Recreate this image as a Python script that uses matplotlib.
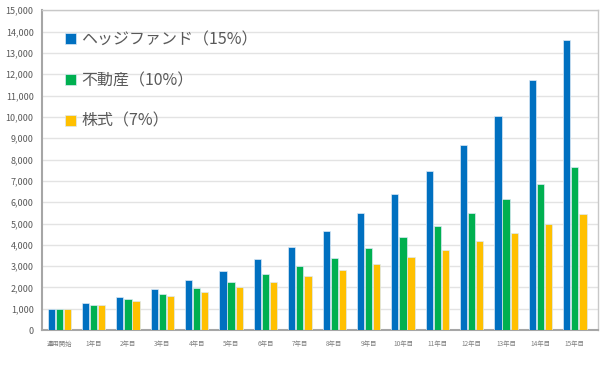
import numpy as np
import matplotlib
matplotlib.use("Agg")
import matplotlib.pyplot as plt
from matplotlib.ticker import FuncFormatter

plt.rcParams['font.family'] = ['Noto Sans CJK JP', 'DejaVu Sans']

years = ['運用開始', '1年目', '2年目', '3年目', '4年目', '5年目', '6年目', '7年目',
         '8年目', '9年目', '10年目', '11年目', '12年目', '13年目', '14年目', '15年目']
hedge = [1000, 1250, 1570, 1910, 2330, 2770, 3320, 3900,
         4630, 5470, 6390, 7440, 8670, 10060, 11710, 13590]
realestate = [1000, 1190, 1440, 1690, 1960, 2260, 2610, 2990,
              3400, 3840, 4360, 4870, 5500, 6150, 6860, 7660]
stocks = [1000, 1160, 1370, 1580, 1790, 2010, 2260, 2530,
          2820, 3110, 3420, 3780, 4160, 4570, 5000, 5440]

labels = ['ヘッジファンド（15%）', '不動産（10%）', '株式（7%）']
colors = ['#0070C0', '#00B050', '#FFC000']

fig = plt.figure(figsize=(6, 3.66), dpi=100)
ax = fig.add_axes([0.07, 0.098, 0.927, 0.874])

x = np.arange(len(years))
w = 0.21
for i, (vals, c, lab) in enumerate(zip([hedge, realestate, stocks], colors, labels)):
    ax.bar(x + (i - 1) * 0.235, vals, width=w, color=c, label=lab,
           edgecolor='#dbe9f5', linewidth=0.5, zorder=3)

ax.set_xlim(-0.5, 15.68)
ax.set_ylim(0, 15000)
ax.set_yticks(range(0, 15001, 1000))
ax.yaxis.set_major_formatter(FuncFormatter(lambda v, p: f'{int(v):,}'))
ax.set_xticks(x)
ax.set_xticklabels(years)
ax.tick_params(axis='y', labelsize=6.5, colors='#595959', length=0, pad=6)
ax.tick_params(axis='x', labelsize=4.6, colors='#7f7f7f', length=0, pad=7)
ax.grid(axis='y', color='#e3e3e3', linewidth=1, zorder=0)

for s in ['top', 'right']:
    ax.spines[s].set_color('#c8c8c8')
    ax.spines[s].set_linewidth(1)
for s in ['left', 'bottom']:
    ax.spines[s].set_color('#a6a6a6')
    ax.spines[s].set_linewidth(1.5)

leg = ax.legend(loc='upper left', bbox_to_anchor=(0.03, 0.955), frameon=False,
                fontsize=11.5, labelspacing=1.5, handlelength=0.7, handleheight=0.7,
                handletextpad=0.3, borderaxespad=0)
for t in leg.get_texts():
    t.set_color('#595959')

fig.savefig('out.png', dpi=100)
